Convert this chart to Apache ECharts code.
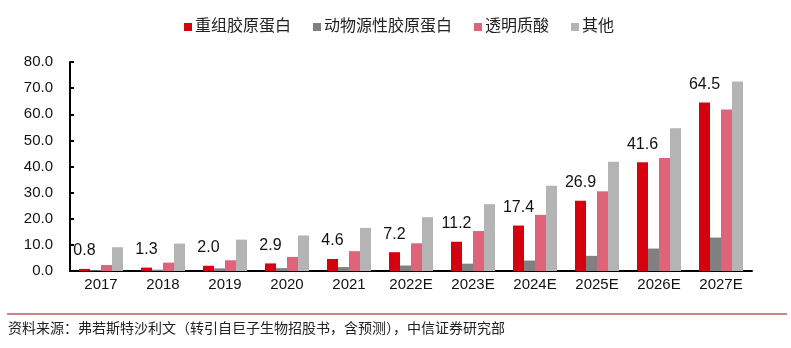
<!DOCTYPE html>
<html>
<head>
<meta charset="utf-8">
<script src="https://cdn.jsdelivr.net/npm/echarts@6/dist/echarts.min.js"></script>
<style>html,body{margin:0;padding:0;background:#fff;}#c{width:791px;height:348px;}</style>
</head>
<body>
<div id="c"></div>
<script>
const categories = ['2017','2018','2019','2020','2021','2022E','2023E','2024E','2025E','2026E','2027E'];
const seriesNames = ['重组胶原蛋白','动物源性胶原蛋白','透明质酸','其他'];
const recombinant = [0.8,1.3,2.0,2.9,4.6,7.2,11.2,17.4,26.9,41.6,64.5];
const animal = [0.3,0.5,1.0,1.1,1.5,2.1,2.8,4.0,5.8,8.6,12.8];
const hyaluronic = [2.3,3.2,4.1,5.4,7.6,10.6,15.3,21.5,30.5,43.3,61.8];
const others = [9.1,10.5,12.0,13.6,16.5,20.6,25.6,32.6,41.8,54.6,72.5];
const yTicks = {min:0,max:80,interval:10};
const sourceText = '资料来源：弗若斯特沙利文（转引自巨子生物招股书，含预测），中信证券研究部';

const FONT = '"Liberation Sans","Noto Sans CJK SC",Arial,sans-serif';
const colors = ['#d7000f','#808080','#e06479','#b4b4b4'];
const chart = echarts.init(document.getElementById('c'));
const data = [recombinant, animal, hyaluronic, others];
chart.setOption({
  animation:false,
  color:colors,
  textStyle:{fontFamily:FONT},
  legend:{
    top:14, left:179,
    itemWidth:8, itemHeight:8, itemGap:22,
    icon:'rect',
    textStyle:{fontSize:16,color:'#222',fontFamily:FONT,padding:[0,0,0,-2]},
    data:seriesNames
  },
  grid:{left:70,right:39,top:62,bottom:77,containLabel:false},
  xAxis:{
    type:'category', data:categories,
    axisLine:{lineStyle:{color:'#000',width:2}},
    axisTick:{show:false},
    axisLabel:{fontSize:15,color:'#111',margin:6,fontFamily:FONT}
  },
  yAxis:{
    type:'value', min:yTicks.min, max:yTicks.max, interval:yTicks.interval,
    splitLine:{show:false},
    axisLine:{show:true,lineStyle:{color:'#000',width:2}},
    axisTick:{show:true,inside:true,length:4,lineStyle:{color:'#000',width:2}},
    axisLabel:{fontSize:15,color:'#111',margin:17,fontFamily:FONT,formatter:v=>v.toFixed(1)}
  },
  series: seriesNames.map((n,i)=>({
    name:n, type:'bar', data:data[i],
    barGap:'0%', barCategoryGap:'29%',
    label: i===0 ? {show:true,position:'top',distance:10,fontSize:16,color:'#111',fontFamily:FONT,formatter:p=>p.value.toFixed(1)} : {show:false}
  })),
  graphic:[
    {type:'line',shape:{x1:7,y1:314,x2:787,y2:314},style:{stroke:'#c05a5a',lineWidth:1.5}},
    {type:'text',left:8,top:322,style:{text:sourceText,fontSize:14,fill:'#222',fontFamily:FONT}}
  ]
});
</script>
</body>
</html>
